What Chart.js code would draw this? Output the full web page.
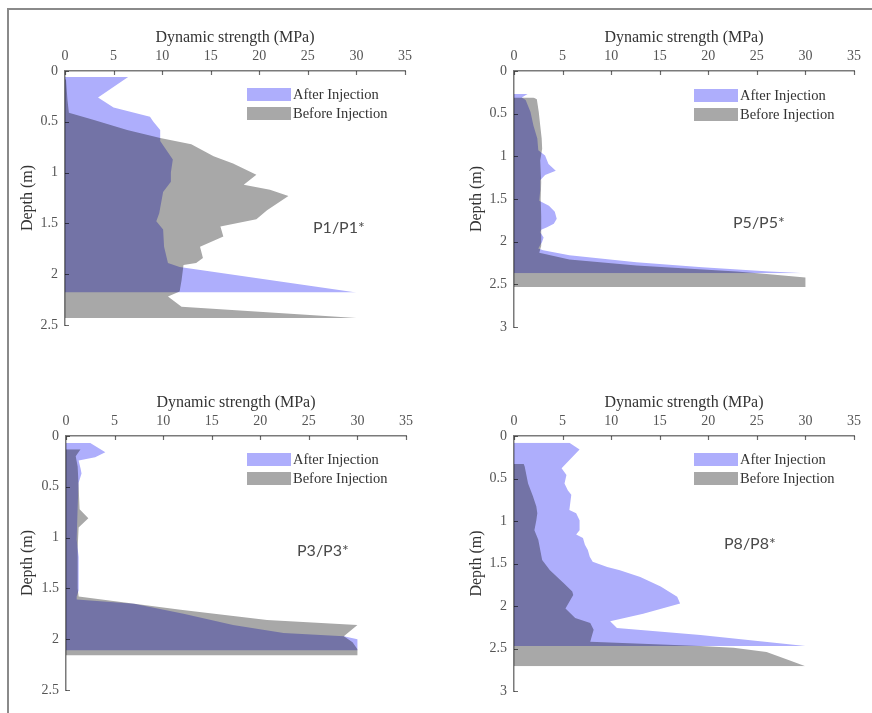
<!DOCTYPE html>
<html>
<head>
<meta charset="utf-8">
<title>Dynamic strength profiles</title>
<script src="https://cdn.jsdelivr.net/npm/chart.js@4.4.1/dist/chart.umd.min.js"></script>
<style>
  body { margin: 0; width: 872px; height: 713px; overflow: hidden; position: relative; background: #fff; }
  .frame { position: absolute; left: 7px; top: 8px; width: 900px; height: 720px;
           border-left: 2px solid #8a8a8a; border-top: 2px solid #8a8a8a; }
  canvas { position: absolute; }
  .sw { position: absolute; width: 44px; height: 13px; }
  .lt { position: absolute; font-family: "Liberation Serif", serif; font-size: 14.5px; color: #333;
        line-height: 16px; white-space: nowrap; }
  .tag { position: absolute; font-family: Lato, "Open Sans", sans-serif; font-size: 16px; color: #4a4a4a;
         line-height: 20px; white-space: nowrap; }
</style>
</head>
<body>
<div class="frame"></div>
<canvas id="p1"></canvas>
<canvas id="p5"></canvas>
<canvas id="p3"></canvas>
<canvas id="p8"></canvas>

<script>
// Axis ticks
const strengthTicks = [0, 5, 10, 15, 20, 25, 30, 35];
const depthTicksShort = [0, 0.5, 1, 1.5, 2, 2.5];
const depthTicksLong = [0, 0.5, 1, 1.5, 2, 2.5, 3];
const seriesNames = ["After Injection", "Before Injection"];

// P1 / P1*
const p1AfterDepth = [0.06, 0.26, 0.36, 0.45, 0.50, 0.58, 0.69, 0.87, 1.00, 1.09, 1.19, 1.27, 1.40, 1.48, 1.56, 1.73, 1.89, 1.93, 2.18];
const p1AfterValue = [6.5, 3.4, 5.0, 8.75, 9.1, 9.8, 9.8, 11.1, 10.9, 10.9, 10.1, 9.95, 9.7, 9.4, 10.1, 10.2, 10.6, 11.8, 30];
const p1BeforeDepth = [0.08, 0.28, 0.41, 0.48, 0.58, 0.66, 0.72, 0.84, 0.91, 1.02, 1.12, 1.17, 1.23, 1.37, 1.46, 1.53, 1.63, 1.73, 1.84, 1.89, 1.91, 2.06, 2.17, 2.22, 2.32, 2.43];
const p1BeforeValue = [0.1, 0.25, 0.4, 2.9, 6.4, 9.8, 13.0, 15.3, 17.3, 19.7, 18.4, 21.1, 23.0, 20.8, 19.7, 16.0, 16.3, 13.9, 14.2, 13.5, 12.2, 12.0, 11.8, 10.6, 12.0, 30];

// P5 / P5*
const p5AfterDepth = [0.27, 0.31, 0.34, 0.48, 0.64, 0.79, 0.93, 0.99, 1.09, 1.17, 1.22, 1.28, 1.40, 1.52, 1.58, 1.65, 1.73, 1.79, 1.83, 1.86, 1.89, 1.95, 2.00, 2.08, 2.10, 2.16, 2.24, 2.30, 2.35, 2.37];
const p5AfterValue = [1.4, 0.8, 1.2, 1.7, 2.0, 2.4, 2.5, 3.2, 3.55, 4.3, 3.2, 2.7, 2.7, 2.6, 3.6, 4.2, 4.4, 4.1, 3.4, 2.8, 2.7, 3.05, 2.9, 2.5, 3.0, 5.7, 12.6, 19.4, 26.3, 30];
const p5BeforeDepth = [0.31, 0.33, 0.48, 0.64, 0.79, 0.91, 1.05, 1.30, 1.50, 1.70, 1.90, 2.05, 2.13, 2.21, 2.28, 2.35, 2.38, 2.42, 2.53];
const p5BeforeValue = [2.0, 2.35, 2.55, 2.7, 2.85, 2.9, 2.7, 2.8, 2.75, 2.8, 2.8, 2.8, 2.6, 5.7, 12.6, 22.9, 26, 30, 30];

// P3 / P3*
const p3AfterDepth = [0.07, 0.16, 0.21, 0.24, 0.32, 0.37, 0.46, 0.70, 1.02, 1.19, 1.52, 1.58, 1.61, 1.65, 1.75, 1.86, 1.94, 1.97, 2.00, 2.11];
const p3AfterValue = [2.5, 4.05, 3.0, 1.3, 1.5, 1.6, 1.3, 1.2, 1.1, 1.3, 1.3, 1.1, 1.1, 7.0, 12.1, 17.2, 22.4, 28.6, 30, 30];
const p3BeforeDepth = [0.13, 0.20, 0.30, 0.50, 0.72, 0.81, 0.90, 1.10, 1.30, 1.50, 1.58, 1.71, 1.81, 1.86, 1.97, 2.03, 2.10, 2.16];
const p3BeforeValue = [1.5, 1.0, 1.2, 1.3, 1.4, 2.3, 1.3, 1.2, 1.2, 1.2, 1.3, 11.8, 20.7, 30, 28.6, 29.5, 30, 30];

// P8 / P8*
const p8AfterDepth = [0.08, 0.16, 0.38, 0.46, 0.56, 0.64, 0.69, 0.87, 0.91, 0.99, 1.11, 1.16, 1.20, 1.28, 1.34, 1.42, 1.48, 1.54, 1.58, 1.66, 1.77, 1.89, 1.97, 2.09, 2.18, 2.26, 2.34, 2.47];
const p8AfterValue = [5.7, 6.75, 4.9, 5.4, 5.2, 5.55, 5.9, 5.7, 6.4, 6.75, 6.75, 6.4, 7.1, 7.3, 7.6, 7.8, 8.1, 9.6, 10.9, 13.0, 15.1, 16.8, 17.1, 13.3, 9.9, 10.6, 19.2, 30];
const p8BeforeDepth = [0.33, 0.36, 0.56, 0.71, 0.83, 0.91, 0.99, 1.11, 1.22, 1.46, 1.58, 1.73, 1.83, 1.87, 2.03, 2.14, 2.20, 2.28, 2.36, 2.42, 2.47, 2.49, 2.54, 2.64, 2.71];
const p8BeforeValue = [1.0, 1.1, 1.45, 1.95, 2.3, 2.4, 2.3, 2.1, 2.5, 2.9, 3.7, 5.1, 6.0, 6.1, 5.3, 6.3, 7.85, 8.2, 8.0, 7.85, 19.2, 22.6, 26, 28.4, 30];

const afterColor = "#aeaefc";
const beforeColor = "#a8a8a8";
const serif = "'Liberation Serif', 'Times New Roman', serif";

// fills are multiplied so the overlap turns dark blue like the original
const blendPlugin = {
    id: "blend",
    beforeDatasetsDraw(chart) {
        chart.ctx.save();
        chart.ctx.globalCompositeOperation = "multiply";
    },
    afterDatasetsDraw(chart) {
        const { ctx, chartArea, scales } = chart;
        // small inward tick marks
        ctx.strokeStyle = "#6a6a6a";
        ctx.lineWidth = 1.2;
        ctx.beginPath();
        scales.x.ticks.forEach(t => {
            const px = Math.round(scales.x.getPixelForValue(t.value)) + 0.5;
            ctx.moveTo(px, chartArea.top);
            ctx.lineTo(px, chartArea.top + 4);
        });
        scales.y.ticks.forEach(t => {
            const py = Math.round(scales.y.getPixelForValue(t.value)) + 0.5;
            ctx.moveTo(chartArea.left, py);
            ctx.lineTo(chartArea.left + 4, py);
        });
        ctx.stroke();
        ctx.restore();
    }
};

function toPoints(values, depths) {
    return values.map((v, i) => ({ x: v, y: depths[i] }));
}

function makePanel(p) {
    const canvas = document.getElementById(p.id);
    canvas.width = p.w;
    canvas.height = p.h;
    canvas.style.left = p.left + "px";
    canvas.style.top = p.top + "px";

    new Chart(canvas, {
        type: "line",
        data: {
            datasets: [
                { label: seriesNames[0], data: toPoints(p.afterValue, p.afterDepth), backgroundColor: afterColor, fill: "origin" },
                { label: seriesNames[1], data: toPoints(p.beforeValue, p.beforeDepth), backgroundColor: beforeColor, fill: "origin" }
            ]
        },
        options: {
            indexAxis: "y",
            responsive: false,
            animation: false,
            devicePixelRatio: 1,
            layout: { padding: { left: 0, top: 0, right: p.w - p.area.r, bottom: p.h - p.area.b } },
            elements: { point: { radius: 0 }, line: { borderWidth: 0, tension: 0 } },
            plugins: { legend: { display: false }, tooltip: { enabled: false } },
            scales: {
                x: {
                    type: "linear", position: "top", min: 0, max: 35,
                    afterBuildTicks: s => { s.ticks = strengthTicks.map(v => ({ value: v })); },
                    afterFit: s => { s.height = p.area.t; },
                    grid: { display: false, drawTicks: false },
                    border: { display: true, color: "#7a7a7a", width: 1.5 },
                    ticks: { padding: 6, autoSkip: false, maxRotation: 0, color: "#555",
                             font: { family: serif, size: 14 }, callback: v => String(v) },
                    title: { display: true, text: "Dynamic strength (MPa)", color: "#333",
                             font: { family: serif, size: 16 }, padding: { top: 28.4, bottom: 0 } }
                },
                y: {
                    type: "linear", position: "left", reverse: true, min: 0, max: p.depthTicks[p.depthTicks.length - 1],
                    afterBuildTicks: s => { s.ticks = p.depthTicks.map(v => ({ value: v })); },
                    afterFit: s => { s.width = p.area.l; },
                    grid: { display: false, drawTicks: false },
                    border: { display: true, color: "#7a7a7a", width: 1.5 },
                    ticks: { padding: 7, autoSkip: false, color: "#555",
                             font: { family: serif, size: 14 }, callback: v => String(v) },
                    title: { display: true, text: "Depth (m)", color: "#333",
                             font: { family: serif, size: 16 }, padding: { top: p.yTitleX - 9.6, bottom: 0 } }
                }
            }
        },
        plugins: [blendPlugin]
    });

    // legend inside the plot, upper right
    [afterColor, beforeColor].forEach((c, i) => {
        const sw = document.createElement("div");
        sw.className = "sw";
        sw.style.background = c;
        sw.style.left = p.legend.x + "px";
        sw.style.top = (p.legend.y + i * 19) + "px";
        document.body.appendChild(sw);
        const lt = document.createElement("div");
        lt.className = "lt";
        lt.textContent = seriesNames[i];
        lt.style.left = (p.legend.x + 46) + "px";
        lt.style.top = (p.legend.y + i * 19 - 2) + "px";
        document.body.appendChild(lt);
    });

    const tag = document.createElement("div");
    tag.className = "tag";
    tag.textContent = p.tag.text;
    tag.style.left = p.tag.x + "px";
    tag.style.top = (p.tag.y - 10) + "px";
    document.body.appendChild(tag);
}

document.addEventListener("DOMContentLoaded", () => {
    makePanel({ id: "p1", left: 0, top: 0, w: 436, h: 345, area: { l: 65, t: 71, r: 405, b: 325 }, yTitleX: 27.5,
        depthTicks: depthTicksShort, afterDepth: p1AfterDepth, afterValue: p1AfterValue,
        beforeDepth: p1BeforeDepth, beforeValue: p1BeforeValue,
        legend: { x: 247, y: 88 }, tag: { x: 313, y: 227, text: "P1/P1*" } });
    makePanel({ id: "p5", left: 436, top: 0, w: 436, h: 345, area: { l: 78, t: 71, r: 418, b: 327 }, yTitleX: 41,
        depthTicks: depthTicksLong, afterDepth: p5AfterDepth, afterValue: p5AfterValue,
        beforeDepth: p5BeforeDepth, beforeValue: p5BeforeValue,
        legend: { x: 694, y: 89 }, tag: { x: 733, y: 222, text: "P5/P5*" } });
    makePanel({ id: "p3", left: 0, top: 365, w: 436, h: 348, area: { l: 66, t: 71, r: 406, b: 325 }, yTitleX: 27.5,
        depthTicks: depthTicksShort, afterDepth: p3AfterDepth, afterValue: p3AfterValue,
        beforeDepth: p3BeforeDepth, beforeValue: p3BeforeValue,
        legend: { x: 247, y: 453 }, tag: { x: 297, y: 550, text: "P3/P3*" } });
    makePanel({ id: "p8", left: 436, top: 365, w: 436, h: 348, area: { l: 78, t: 71, r: 418, b: 326 }, yTitleX: 41,
        depthTicks: depthTicksLong, afterDepth: p8AfterDepth, afterValue: p8AfterValue,
        beforeDepth: p8BeforeDepth, beforeValue: p8BeforeValue,
        legend: { x: 694, y: 453 }, tag: { x: 724, y: 543, text: "P8/P8*" } });
});
</script>
</body>
</html>
